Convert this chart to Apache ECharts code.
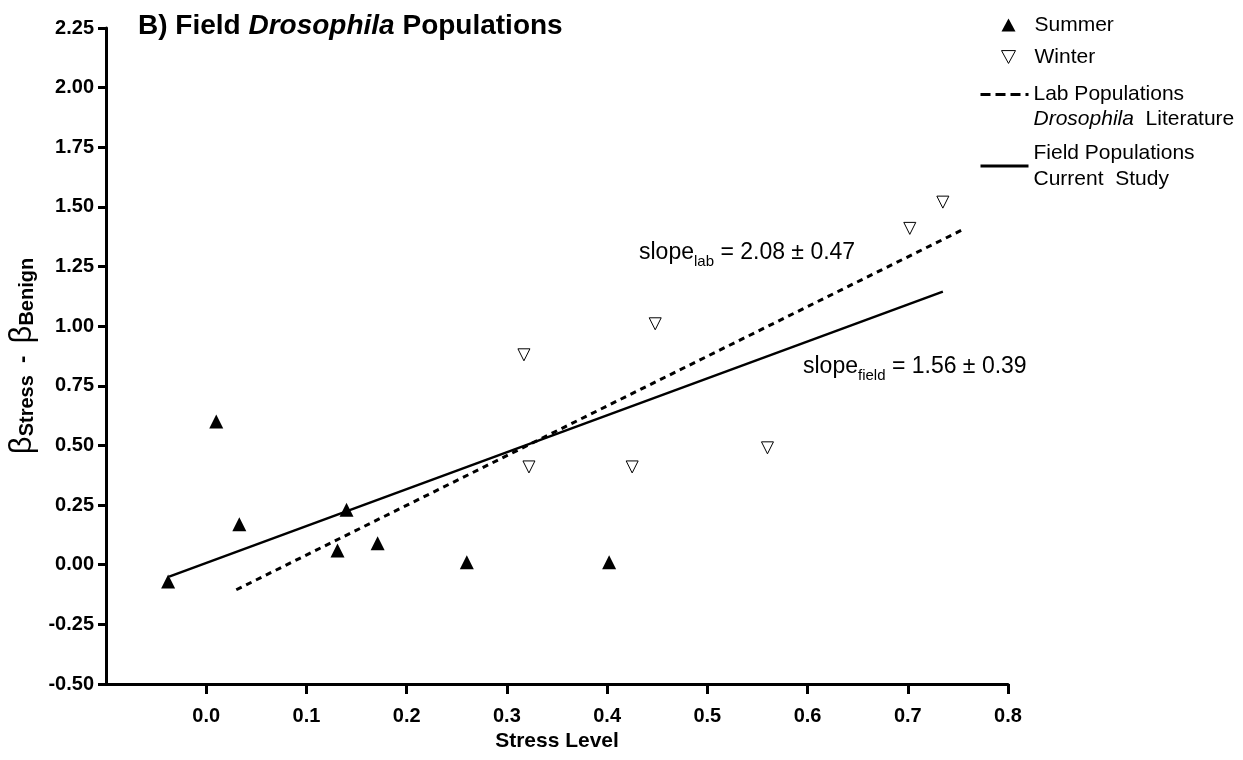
<!DOCTYPE html>
<html>
<head>
<meta charset="utf-8">
<script src="https://cdn.jsdelivr.net/npm/echarts@6/dist/echarts.min.js"></script>
<style>
html,body{margin:0;padding:0;background:#fff}
#chart{width:1243px;height:760px}
</style>
</head>
<body>
<div id="chart"></div>
<script>
// summer populations (filled triangles)
var summerX = [-0.038, 0.010, 0.033, 0.131, 0.140, 0.171, 0.260, 0.402];
var summerY = [-0.07, 0.60, 0.17, 0.06, 0.23, 0.09, 0.01, 0.01];
// winter populations (open down triangles)
var winterX = [0.317, 0.322, 0.425, 0.448, 0.560, 0.702, 0.735];
var winterY = [0.88, 0.41, 0.41, 1.01, 0.49, 1.41, 1.52];
// regression lines, end points
var labX = [0.030, 0.755];
var labY = [-0.105, 1.405];
var fieldX = [-0.037, 0.735];
var fieldY = [-0.05, 1.145];
// x tick labels
var xTicks = [0, 0.1, 0.2, 0.3, 0.4, 0.5, 0.6, 0.7, 0.8];

var FONT = 'Liberation Sans';

function pairs(xs, ys) {
  var out = [];
  for (var i = 0; i < xs.length; i++) out.push([xs[i], ys[i]]);
  return out;
}

var chart = echarts.init(document.getElementById('chart'));

var option = {
  animation: false,
  backgroundColor: '#fff',
  title: {
    text: 'B) Field {i|Drosophila} Populations',
    left: 138,
    top: 12,
    padding: 0,
    textStyle: {
      fontFamily: FONT, fontSize: 28, fontWeight: 'bold', color: '#000',
      rich: {
        i: {fontFamily: FONT, fontSize: 28, fontWeight: 'bold', fontStyle: 'italic', color: '#000'}
      }
    }
  },
  legend: [{
    orient: 'vertical',
    left: 1001, top: 13,
    itemWidth: 14, itemHeight: 13, itemGap: 8,
    padding: 0,
    selectedMode: false,
    textStyle: {fontFamily: FONT, fontSize: 21, color: '#000', lineHeight: 24, padding: [0, 0, 0, 14]},
    data: [
      {name: 'Summer'},
      {name: 'Winter', icon: 'path://M0,0L12,0L6,11Z', itemStyle: {color: '#fff', borderColor: '#000', borderWidth: 1}}
    ]
  }, {
    orient: 'vertical',
    left: 979, top: 57,
    itemWidth: 48, itemHeight: 14,
    padding: 0,
    selectedMode: false,
    itemStyle: {opacity: 0},
    lineStyle: {color: '#000', width: 3, type: [10, 5]},
    formatter: function () { return 'Lab Populations\n{i|Drosophila}  Literature'; },
    textStyle: {
      fontFamily: FONT, fontSize: 21, color: '#000', lineHeight: 25, padding: [25, 0, 0, 0],
      rich: {i: {fontFamily: FONT, fontSize: 21, fontStyle: 'italic', color: '#000', lineHeight: 25}}
    },
    data: ['Lab']
  }, {
    orient: 'vertical',
    left: 979, top: 127,
    itemWidth: 48, itemHeight: 14,
    padding: 0,
    selectedMode: false,
    itemStyle: {opacity: 0},
    lineStyle: {color: '#000', width: 3},
    formatter: function () { return 'Field Populations\nCurrent  Study'; },
    textStyle: {fontFamily: FONT, fontSize: 21, color: '#000', lineHeight: 26, padding: [26, 0, 0, 0]},
    data: ['Field']
  }],
  grid: {left: 106, right: 235, top: 28, bottom: 76, containLabel: false, outerBoundsMode: 'none'},
  xAxis: {
    type: 'value',
    min: -0.1, max: 0.8, interval: 0.1,
    name: 'Stress Level',
    nameLocation: 'middle',
    nameGap: 43,
    nameTextStyle: {fontFamily: FONT, fontSize: 21, fontWeight: 'bold', color: '#000'},
    axisLine: {onZero: false, lineStyle: {color: '#000', width: 3}},
    axisTick: {show: true, length: 10, lineStyle: {color: '#000', width: 3}, customValues: xTicks},
    axisLabel: {
      customValues: xTicks,
      margin: 22,
      fontFamily: FONT, fontSize: 20, fontWeight: 'bold', color: '#000',
      formatter: function (v) { return v.toFixed(1); }
    },
    splitLine: {show: false}
  },
  yAxis: {
    type: 'value',
    min: -0.5, max: 2.25, interval: 0.25,
    name: '{b|β}{s|Stress}{d|  -  }{b|β}{s|Benign}',
    nameLocation: 'middle',
    nameRotate: 90,
    nameGap: 66,
    nameTextStyle: {
      fontFamily: FONT, color: '#000',
      rich: {
        b: {fontFamily: FONT, fontSize: 31, color: '#000', verticalAlign: 'bottom'},
        s: {fontFamily: FONT, fontSize: 20, fontWeight: 'bold', color: '#000', verticalAlign: 'bottom'},
        d: {fontFamily: FONT, fontSize: 22, fontWeight: 'bold', color: '#000', verticalAlign: 'bottom', padding: [0, 0, 4, 0]}
      }
    },
    axisLine: {onZero: false, lineStyle: {color: '#000', width: 3}},
    axisTick: {show: true, length: 8, lineStyle: {color: '#000', width: 3}},
    axisLabel: {
      margin: 12,
      fontFamily: FONT, fontSize: 20, fontWeight: 'bold', color: '#000',
      formatter: function (v) { return v.toFixed(2); }
    },
    splitLine: {show: false}
  },
  series: [{
    name: 'Lab',
    type: 'line',
    data: pairs(labX, labY),
    showSymbol: false,
    symbol: 'none',
    itemStyle: {color: '#000'},
    lineStyle: {color: '#000', width: 3, type: [6, 5]},
    z: 2
  }, {
    name: 'Field',
    type: 'line',
    data: pairs(fieldX, fieldY),
    showSymbol: false,
    symbol: 'none',
    itemStyle: {color: '#000'},
    lineStyle: {color: '#000', width: 2.5},
    z: 2
  }, {
    name: 'Summer',
    type: 'scatter',
    data: pairs(summerX, summerY),
    symbol: 'triangle',
    symbolSize: 14,
    itemStyle: {color: '#000', opacity: 1},
    z: 4
  }, {
    name: 'Winter',
    type: 'scatter',
    data: pairs(winterX, winterY),
    symbol: 'triangle',
    symbolRotate: 180,
    symbolSize: 12,
    itemStyle: {color: '#fff', borderColor: '#000', borderWidth: 1, opacity: 1},
    z: 4
  }],
  graphic: [{
    type: 'text',
    left: 639, top: 241,
    style: {
      text: '{n|slope}{s|lab}{n| = 2.08 ± 0.47}',
      rich: {
        n: {fontFamily: FONT, fontSize: 23, fill: '#000', verticalAlign: 'bottom', padding: [0, 0, 5, 0]},
        s: {fontFamily: FONT, fontSize: 15, fill: '#000', verticalAlign: 'bottom'}
      }
    }
  }, {
    type: 'text',
    left: 803, top: 355,
    style: {
      text: '{n|slope}{s|field}{n| = 1.56 ± 0.39}',
      rich: {
        n: {fontFamily: FONT, fontSize: 23, fill: '#000', verticalAlign: 'bottom', padding: [0, 0, 5, 0]},
        s: {fontFamily: FONT, fontSize: 15, fill: '#000', verticalAlign: 'bottom'}
      }
    }
  }]
};

chart.setOption(option);
</script>
</body>
</html>
